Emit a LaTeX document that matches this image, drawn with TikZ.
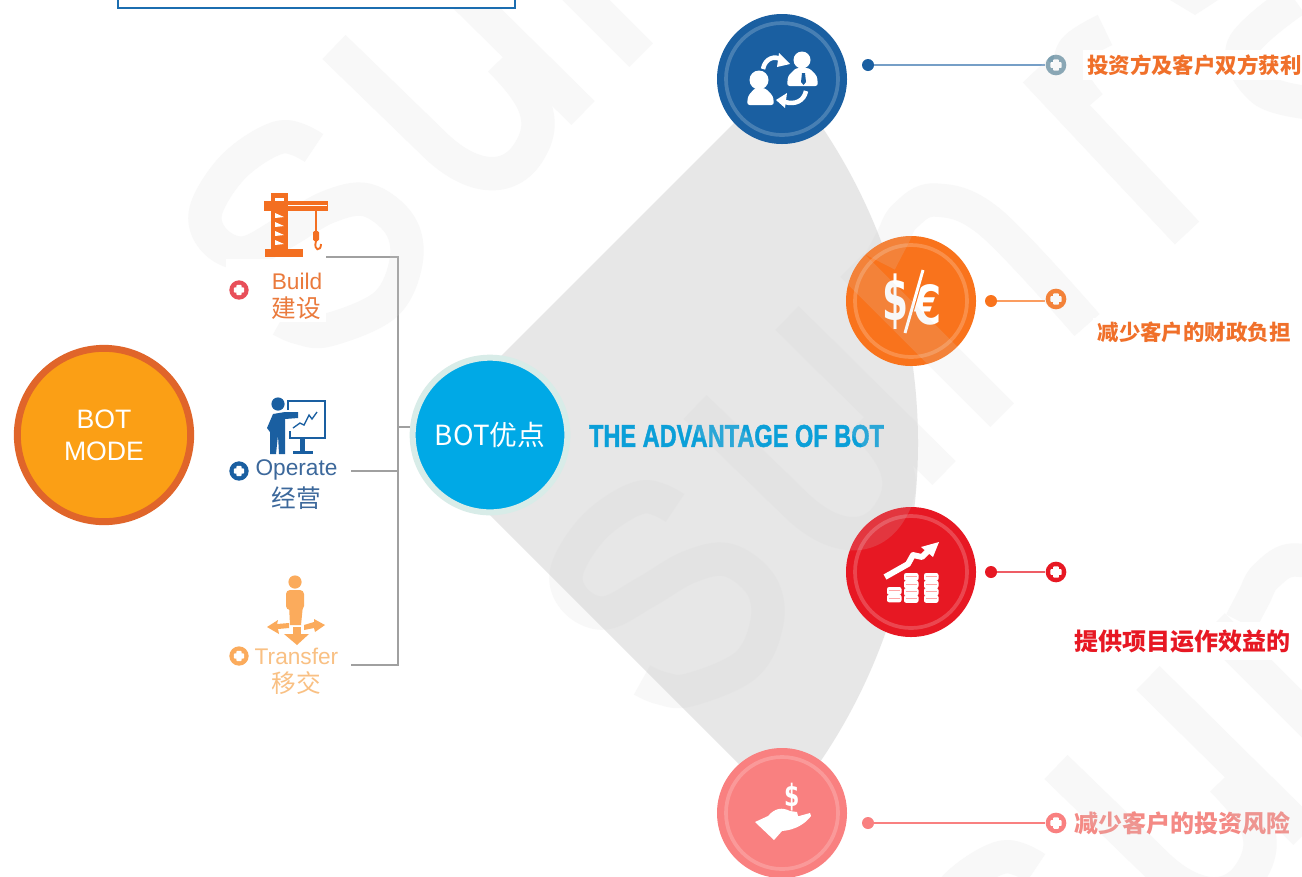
\documentclass[tikz,border=0pt]{standalone}
\usepackage{fontspec}
\setmainfont{Liberation Sans}
\newfontfamily\cjk{Noto Sans CJK SC}
\newfontfamily\heavy{DejaVu Sans}
\newfontfamily\advf{Liberation Sans}[BoldFeatures={FakeBold=1.6}]
\definecolor{cblue}{HTML}{1A5FA1}
\definecolor{corange}{HTML}{F9731C}
\definecolor{cred}{HTML}{E71823}
\definecolor{cpink}{HTML}{F98080}
\definecolor{ctext}{HTML}{F0702A}
\definecolor{cline}{HTML}{A0A0A0}
\definecolor{cfan}{HTML}{E7E7E7}
\definecolor{cwm}{HTML}{D4D4D4}
\definecolor{ctrans}{HTML}{FBAB5C}
\definecolor{cbox}{HTML}{1B6DB0}
\definecolor{cmode}{HTML}{FB9F15}
\definecolor{cmodeb}{HTML}{E0652A}
\definecolor{csky}{HTML}{00A9E6}
\definecolor{cskyr}{HTML}{D8ECE8}
\definecolor{cadv}{HTML}{0B9FD8}
\definecolor{cbuild}{HTML}{EA7A3C}
\definecolor{coper}{HTML}{3C689B}
\definecolor{ctrt}{HTML}{F9C083}
\definecolor{crane}{HTML}{F36F21}
\definecolor{cslate}{HTML}{7C9FB0}
\definecolor{cpinkt}{HTML}{F48A85}
\definecolor{cplusr}{HTML}{E84F5A}
\tikzset{
  x=0.75pt,y=-0.75pt,
  coin/.style={circle,fill=#1,draw=none,inner sep=0,minimum size=97.5pt},
  ringline/.style={draw=white,draw opacity=.2,line width=2.8pt,fill=none},
  dotn/.style={circle,fill=#1,inner sep=0,minimum size=9pt},
  plusn/.style={circle,fill=#1,inner sep=0,minimum size=15.5pt,
    path picture={\fill[white,rounded corners=.6pt]
      ([xshift=-4.3pt,yshift=-2.1pt]path picture bounding box.center) rectangle ([xshift=4.3pt,yshift=2.1pt]path picture bounding box.center);
      \fill[white,rounded corners=.6pt]
      ([xshift=-2.1pt,yshift=-4.3pt]path picture bounding box.center) rectangle ([xshift=2.1pt,yshift=4.3pt]path picture bounding box.center);}},
  plusl/.style={circle,fill=#1,inner sep=0,minimum size=14.5pt,
    path picture={\fill[white,rounded corners=.6pt]
      ([xshift=-3.9pt,yshift=-1.9pt]path picture bounding box.center) rectangle ([xshift=3.9pt,yshift=1.9pt]path picture bounding box.center);
      \fill[white,rounded corners=.6pt]
      ([xshift=-1.9pt,yshift=-3.9pt]path picture bounding box.center) rectangle ([xshift=1.9pt,yshift=3.9pt]path picture bounding box.center);}},
  lead/.style={draw=#1,line width=.9pt},
  gline/.style={draw=cline,line width=2pt},
  wm/.style={draw=cwm,line width=25pt,line cap=butt,line join=round},
  lab/.style={inner sep=0,text=#1,font=\fontsize{17}{18}\selectfont},
  labc/.style={inner sep=0,text=#1,font=\cjk\fontsize{18.5}{20}\selectfont},
  benefit/.style={inner sep=0,text=#1,font=\cjk\bfseries\fontsize{16.1}{18}\selectfont},
  benefitb/.style={inner sep=0,text=#1,font=\cjk\bfseries\fontsize{18}{20}\selectfont},
}
\begin{document}
\begin{tikzpicture}
\useasboundingbox (0,0) rectangle (1302,876);
\fill[white] (0,0) rectangle (1302,876);
% fan
\begin{scope}
\clip (480,377) -- (740,117) -- (1000,117) -- (1000,790) -- (762,787) -- (480,505) -- cycle;
\fill[cfan] (350,443) circle (568);
\end{scope}
% left connectors
\coordinate (cb) at (326,257);
\coordinate (cbc) at (398,257);
\coordinate (co) at (351,471);
\coordinate (coc) at (398,471);
\coordinate (ct) at (351,665);
\coordinate (ctc) at (398,665);
\coordinate (cm) at (398,427);
\node[circle,fill=csky,draw=cskyr,line width=4.5pt,inner sep=0,minimum size=116pt,
  text=white,font=\cjk\fontsize{20.8}{22}\selectfont] (adv) at (490,435) {BOT优点};
\draw[gline] (cb) -- (cbc) -- (ctc) -- (ct);
\draw[gline] (co) -- (coc);
\draw[gline] (cm) -- (cm -| adv.west);
% BOT MODE
\node[circle,fill=cmode,draw=cmodeb,line width=5.2pt,inner sep=0,minimum size=130pt,
  text=white,align=center,font=\fontsize{20}{24}\selectfont] (mode) at (104,435) {BOT\\MODE};
% labels left
\node[lab=coper] (loper) at (296.5,470) {Operate};
\node[labc=coper] (coperx) at (296,498) {经营};
\node[plusl=cblue] (poper) at (239,471) {};
\node[lab=ctrt] (ltrans) at (296.5,656) {Transfer};
\node[labc=ctrt] (ctransx) at (296,683) {移交};
\node[plusl=ctrans] (ptrans) at (239,656) {};
% operate icon
\fill[cblue] (278,404) circle (6.6);
\fill[cblue] (267,428) -- (273,414) -- (285,412) -- (298,412) -- (298,418) -- (285,419) -- (285,454) -- (279,454) -- (278,435) -- (276,454) -- (270,454) -- (270,432) -- cycle;
\draw[cblue,line width=2.2pt] (287,401) -- (325,401) -- (325,438) -- (290,438) -- (290,431);
\draw[cblue,line width=2.2pt] (288,401) -- (288,410);
\fill[cblue] (300,438) rectangle (305,451);
\fill[cblue] (293,451) rectangle (313,454);
\draw[cblue,line width=1pt] (293,428) -- (300,423) -- (304,425) -- (309,415) -- (312,419) -- (317,412);
% transfer icon
\fill[ctrans] (295,582) circle (6.6);
\fill[ctrans,rounded corners=3pt] (286,590) rectangle (304,610);
\fill[ctrans] (289,605) -- (303,605) -- (301,625) -- (290,625) -- cycle;
\fill[ctrans] (267,627) -- (278,620) -- (277,624) -- (289,623) -- (289,628) -- (278,629) -- (279,634) -- cycle;
\fill[ctrans] (325,625) -- (314,619) -- (314,622) -- (304,625) -- (304,630) -- (314,628) -- (315,632) -- cycle;
\fill[ctrans] (293,627) rectangle (301,635);
\fill[ctrans] (284,634) -- (309,634) -- (297,645) -- cycle;
% advantage text
\node[inner sep=0,text=cadv] (advt) at (736.5,436) {\resizebox{221.25pt}{16.5pt}{\advf\bfseries THE ADVANTAGE OF BOT}};
% coins
\node[coin=cblue] (c1) at (782,79) {};
\node[coin=corange] (c2) at (911,301) {};
\node[coin=cred] (c3) at (911,572) {};
\node[coin=cpink] (c4) at (782,813) {};
\foreach \n in {c1,c2,c3,c4}
  \draw[ringline] (\n) circle (56);
% people icon
\fill[white] (802,60) circle (8.5);
\fill[white,rounded corners=2pt] (787,86) -- (788,76) -- (796,68) -- (809,68) -- (817,76) -- (818,86) -- cycle;
\fill[cblue] (802,73) -- (805,73) -- (806,82) -- (803.5,85) -- (801,82) -- cycle;
\fill[white] (759,80) circle (9.5);
\fill[white,rounded corners=2pt] (747,105) -- (748,96) -- (755,88) -- (765,88) -- (773,96) -- (774,105) -- cycle;
\draw[white,line width=3.4pt] (763,69) .. controls (765,58) and (775,55) .. (782,60);
\fill[white] (790,64) -- (779,53) -- (777,67) -- cycle;
\draw[white,line width=3.4pt] (806,91) .. controls (804,101) and (795,105) .. (785,102);
\fill[white] (776,100) -- (787,93) -- (785,108) -- cycle;
% currency icon
\node[inner sep=0,text=white] (ndollar) at (895,302) {\resizebox{19.5pt}{35pt}{\heavy\bfseries \$}};
\node[inner sep=0,text=white] (neuro) at (927.5,305) {\resizebox{22pt}{30pt}{\heavy\bfseries €}};
\draw[corange,line width=3.8pt] (923,270) -- (905,333);
\draw[white,line width=2.2pt] (923,270) -- (905,333);
% growth icon
\draw[white,line width=4.4pt,line join=round] (885,577) -- (908,564) -- (913,555) -- (922,557) -- (931,548);
\fill[white] (939,542) -- (921,547) -- (933,557) -- cycle;
\foreach \xx/\yy in {887/587,887/594.5,904/573,904/580.5,904/588,904/595,924/573,924/580.5,924/588,924/595}{
  \fill[white,rounded corners=1.6pt] (\xx,\yy) rectangle (\xx+14.5,\yy+7.8);
  \draw[red!35!white,line width=.45pt] (\xx+1.5,\yy+3.5) -- (\xx+13,\yy+3.5);
}
% hand icon
\node[inner sep=0,text=white] (ndollarb) at (792.5,797) {\resizebox{11.5pt}{17.5pt}{\heavy\bfseries \$}};
\fill[white] (755,822) -- (768,816) .. controls (775,808) and (782,807) .. (790,811) -- (797,812) -- (798,816) -- (792,818) -- (810,813) -- (811,816) .. controls (805,824) and (795,830) .. (782,831) -- (774,840) -- cycle;
% dots and leaders
\node[dotn=cblue] (d1) at (868,65) {};
\node[plusn=cslate] (p1) at (1056,65) {};
\node[dotn=corange] (d2) at (991,301) {};
\node[plusn=corange] (p2) at (1056,299) {};
\node[dotn=cred] (d3) at (991,572) {};
\node[plusn=cred] (p3) at (1056,572) {};
\node[dotn=cpink] (d4) at (868,823) {};
\node[plusn=cpink] (p4) at (1056,823) {};
\draw[lead=cblue!60!white] (d1) -- (p1);
\draw[lead=corange!70!white] (d2) -- (d2 -| p2.west);
\draw[lead=cred!70!white] (d3) -- (p3);
\draw[lead=cpink] (d4) -- (p4);
\node[benefitb=cpinkt,anchor=east] (t4) at (1291,823) {减少客户的投资风险};
% watermark
\begin{scope}[transparency group,opacity=.16]
\clip (0,0) rectangle (1302,876);
\def\letters{
  \draw[wm] plot[smooth,tension=.6] coordinates {(314,148) (281,137) (235,165) (206,210) (214,240) (244,253) (285,232) (328,207) (367,200) (400,225) (406,262) (385,305) (328,330) (300,328) (281,320)};
  \draw[wm] (334,47) -- (433,143) .. controls (470,180) and (510,185) .. (530,150) .. controls (548,120) and (535,95) .. (500,60);
  \draw[wm] (426,-42) -- (583,113);
}
\letters
\begin{scope}[shift={(361,360)}]\letters\end{scope}
\begin{scope}[shift={(722,720)}]\letters\end{scope}
\def\nn{
  \draw[wm] (852,265) -- (1002,415);
  \draw[wm] plot[smooth,tension=.6] coordinates {(880,262) (893,237) (905,216) (935,200) (990,222) (1087,325)};
}
\begin{scope}[shift={(-361,-360)}]\nn\end{scope}
\nn
\begin{scope}[shift={(361,360)}]\nn\end{scope}
\draw[wm] (1187,233) -- (1035,71);
\draw[wm] plot[smooth,tension=.6] coordinates {(1090,105) (1072,78) (1074,50) (1105,30)};
\draw[wm] plot[smooth,tension=.6] coordinates {(1295,0) (1243,47) (1263,90) (1310,103)};
\fill[cwm] (1170,0) -- (1195,15) -- (1218,0) -- cycle;
\end{scope}
% items above the watermark
\draw[cbox,line width=2.2pt,fill=white] (118,-10) rectangle (515,8);
\fill[white] (226,259) rectangle (326,322);
\node[lab=cbuild] (lbuild) at (297,281) {Build};
\node[labc=cbuild] (cbuild) at (296,308) {建设};
\node[plusl=cplusr] (pbuild) at (239,290) {};
\fill[crane] (271,193) rectangle (288,252);
\fill[crane] (265,249) rectangle (303,257);
\fill[crane] (264,201) rectangle (328,211);
\fill[white] (275,198) rectangle (284,200.5);
\draw[white,line width=.5pt] (288,205.5) -- (327,205.5);
\foreach \yy in {213,222,231,240}
  \fill[white] (275,\yy) -- (284,\yy+4) -- (275,\yy+5) -- cycle;
\draw[crane,line width=1.5pt] (316,211) -- (316,232);
\fill[crane,rounded corners=1pt] (313,231) rectangle (319,241);
\draw[crane,line width=1.4pt] (316,241) .. controls (313,251) and (321,252) .. (321,244);
\fill[white] (1083,50) rectangle (1302,80);
\fill[white] (1093,318) rectangle (1296,346);
\fill[white] (1070,622) rectangle (1302,660);
\node[benefit=ctext,anchor=east] (t1) at (1302,65) {投资方及客户双方获利};
\node[benefit=ctext,anchor=east] (t2) at (1291,332) {减少客户的财政负担};
\node[benefitb=cred,anchor=east] (t3) at (1291,641) {提供项目运作效益的};
\end{tikzpicture}
\end{document}
